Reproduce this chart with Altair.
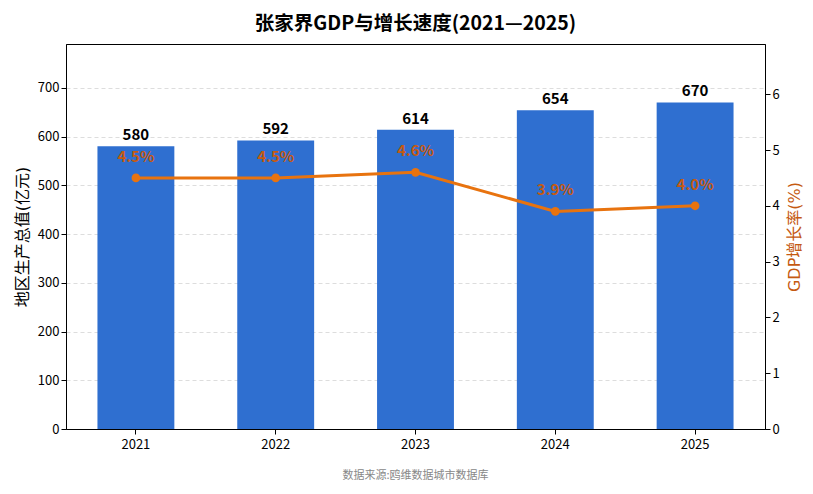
import altair as alt
import pandas as pd

years = ["2021", "2022", "2023", "2024", "2025"]
gdp = [580, 592, 614, 654, 670]
growth = [4.5, 4.5, 4.6, 3.9, 4.0]
growth_labels = ["4.5%", "4.5%", "4.6%", "3.9%", "4.0%"]

title_text = "张家界GDP与增长速度(2021—2025)"
left_title = "地区生产总值(亿元)"
right_title = "GDP增长率(%)"
source_text = "数据来源:鸥维数据城市数据库"

FONT = "Noto Sans CJK SC"
AXIS_TITLE_FONT = "DejaVu Sans, Noto Sans CJK SC"
BAR_COLOR = "#2F6FD0"
LINE_COLOR = "#E8730F"
LABEL_COLOR = "#C55A11"

df = pd.DataFrame({"year": years, "gdp": gdp, "growth": growth, "glabel": growth_labels})

W, H = 699, 385

x = alt.X("year:N", sort=years, title=None,
          scale=alt.Scale(paddingInner=0.45, paddingOuter=0.225),
          axis=alt.Axis(labelAngle=0, labelFontSize=13, labelColor="#000000", tickColor="#000000",
                        domainColor="#000000", tickSize=5, labelPadding=4, grid=False))

base = alt.Chart(df)

bars = base.mark_bar(color=BAR_COLOR).encode(
    x=x,
    y=alt.Y("gdp:Q", scale=alt.Scale(domain=[0, 790], nice=False),
            axis=alt.Axis(title=left_title, values=[0, 100, 200, 300, 400, 500, 600, 700],
                          titleFont=AXIS_TITLE_FONT,
                          titleFontSize=16, titleFontWeight="normal", titleColor="#000000",
                          labelFontSize=13, labelColor="#000000", tickColor="#000000",
                          domainColor="#000000", tickSize=5, titlePadding=7,
                          grid=True, gridColor="#dddddd", gridDash=[4, 3])),
)
bar_text = base.mark_text(baseline="bottom", dy=-3, fontSize=15, fontWeight="bold",
                          color="#000000", font=FONT).encode(
    x=alt.X("year:N", sort=years),
    y=alt.Y("gdp:Q"),
    text=alt.Text("gdp:Q"),
)
left = alt.layer(bars, bar_text)

line = base.mark_line(color=LINE_COLOR, strokeWidth=3).encode(
    x=alt.X("year:N", sort=years),
    y=alt.Y("growth:Q", scale=alt.Scale(domain=[0, 6.9], nice=False),
            axis=alt.Axis(title=right_title, orient="right", values=[0, 1, 2, 3, 4, 5, 6],
                          format="d", titleFont=AXIS_TITLE_FONT,
                          titleFontSize=16, titleFontWeight="normal", titleColor=LABEL_COLOR,
                          titleAngle=270, titleBaseline="top",
                          labelFontSize=13, labelColor="#000000",
                          tickColor="#000000", domainColor="#000000", tickSize=5,
                          titlePadding=7, grid=False)),
)
points = base.mark_point(filled=True, size=75, opacity=1, color=LINE_COLOR).encode(
    x=alt.X("year:N", sort=years),
    y=alt.Y("growth:Q"),
)
line_text = base.mark_text(baseline="middle", dy=-21, fontSize=15, fontWeight="bold",
                           color=LABEL_COLOR, font=FONT).encode(
    x=alt.X("year:N", sort=years),
    y=alt.Y("growth:Q"),
    text=alt.Text("glabel:N"),
)
right = alt.layer(line, points, line_text)

src = alt.Chart(pd.DataFrame({"t": [source_text]})).mark_text(
    fontSize=11, color="#888888", font=FONT, baseline="middle").encode(
    x=alt.value(W / 2), y=alt.value(432), text="t:N")

chart = alt.layer(left, right, src).resolve_scale(y="independent").properties(
    width=W, height=H,
    title=alt.TitleParams(title_text, fontSize=19.5, fontWeight="bold", font=FONT,
                          color="#000000", anchor="middle", offset=10),
    autosize=alt.AutoSizeParams(type="none"),
    padding={"left": 58, "top": 36, "right": 40, "bottom": 57},
).configure(font=FONT).configure_view(stroke="#000000", strokeWidth=1)

chart.save("out.html", embed_options={"renderer": "svg", "actions": False})
